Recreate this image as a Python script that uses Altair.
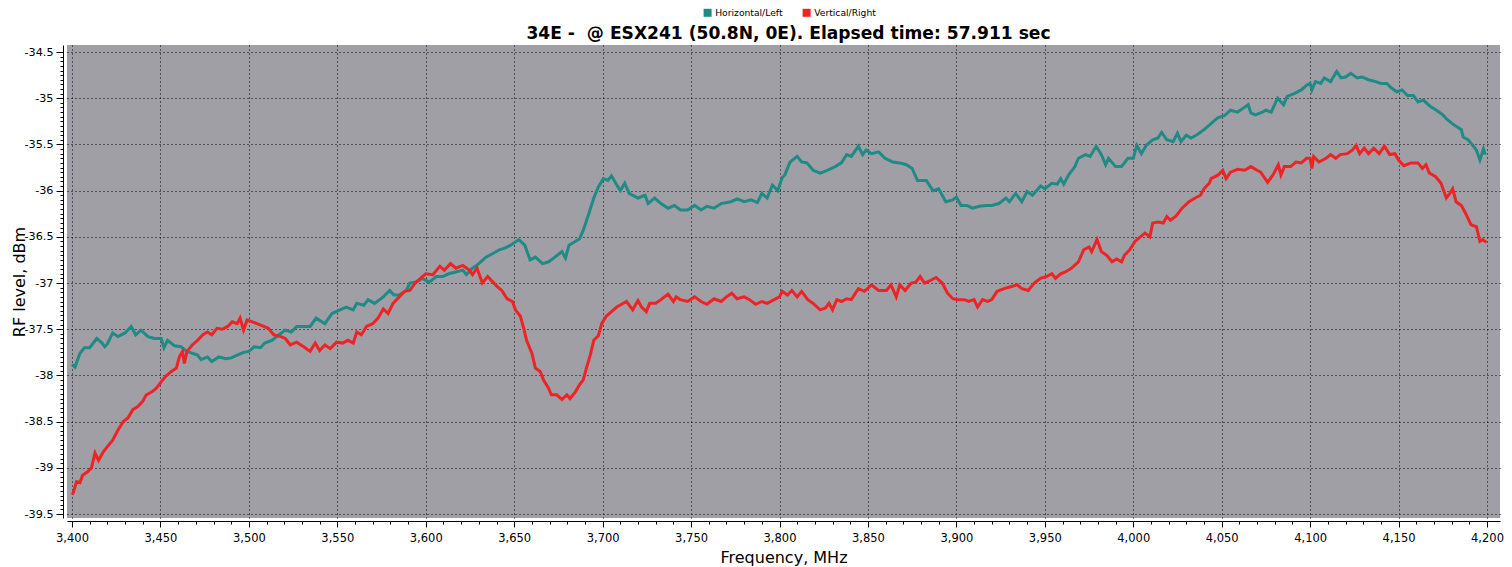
import altair as alt
import pandas as pd

TITLE = "34E - \u00a0@ ESX241 (50.8N, 0E). Elapsed time: 57.911 sec"
SERIES = ["Horizontal/Left", "Vertical/Right"]
COLORS = ["#1f8b87", "#ee2326"]

H_FREQ = [3400, 3401.7, 3404.5, 3407, 3410, 3414, 3417, 3418.5, 3420, 3423, 3426, 3430, 3433.5, 3436, 3439, 3443,
          3446.6, 3450.4, 3452, 3454, 3458, 3461.6, 3465, 3468, 3471, 3473, 3476.6, 3479, 3483, 3487, 3490, 3493.4,
          3497, 3500, 3503, 3506.6, 3509, 3513, 3517, 3520.6, 3524, 3527, 3531, 3534.6, 3538, 3543, 3547, 3551.5,
          3555, 3559, 3561, 3565, 3567.4, 3571, 3576, 3579.6, 3582, 3585, 3589, 3591, 3594.6, 3598, 3602, 3606,
          3609.6, 3613, 3617, 3621, 3623, 3626.4, 3630, 3634, 3638, 3641.6, 3645, 3648, 3652.6, 3656, 3659, 3662,
          3666, 3669.5, 3673, 3677, 3679, 3681, 3684.5, 3687, 3689, 3692, 3695, 3697.6, 3700.4, 3703, 3705, 3708,
          3710, 3712.5, 3715, 3720, 3724, 3725.7, 3729.4, 3733, 3737, 3740.6, 3744, 3748, 3752, 3755.6, 3759, 3763,
          3767, 3772.5, 3776, 3780, 3784, 3787.5, 3790, 3793, 3796, 3799, 3801.5, 3803, 3806, 3810, 3812.5, 3815.5,
          3819, 3823, 3827, 3831.5, 3835, 3838, 3840.6, 3844.6, 3847, 3849, 3852, 3856, 3859.6, 3864, 3868, 3871.7,
          3875, 3878, 3883, 3886.7, 3890, 3894, 3898, 3900, 3902.6, 3906, 3909, 3913, 3916.7, 3920, 3924, 3928,
          3930, 3933.5, 3937, 3940, 3943, 3947.6, 3950, 3954, 3957, 3959, 3960.7, 3963.5, 3967, 3969, 3973, 3975.6,
          3979, 3982, 3984.4, 3986, 3990, 3993.4, 3997, 4000, 4002, 4004.6, 4007.4, 4011, 4014, 4016, 4019, 4022.5,
          4025, 4027, 4030, 4032.7, 4036.5, 4040, 4043, 4046, 4048, 4051.5, 4055, 4059, 4062, 4065, 4066.5, 4069,
          4073, 4075, 4078, 4081.6, 4085, 4087, 4091, 4095, 4098, 4100, 4101, 4103, 4106, 4108, 4111.6, 4115,
          4117.5, 4120, 4123, 4126.6, 4129.4, 4133, 4137, 4140, 4143.4, 4146, 4149, 4152, 4155, 4158.4, 4161, 4164,
          4168, 4171.4, 4175, 4177, 4180, 4183, 4185.5, 4186.5, 4189.3, 4192, 4194, 4196, 4198, 4199]
H_LEVEL = [-37.88, -37.91, -37.76, -37.70, -37.70, -37.60, -37.65, -37.69, -37.66, -37.54, -37.58, -37.54, -37.47,
           -37.56, -37.51, -37.58, -37.60, -37.60, -37.70, -37.62, -37.68, -37.69, -37.74, -37.76, -37.78, -37.83,
           -37.80, -37.85, -37.80, -37.82, -37.81, -37.78, -37.75, -37.74, -37.69, -37.70, -37.65, -37.62, -37.56,
           -37.51, -37.53, -37.47, -37.47, -37.47, -37.38, -37.44, -37.33, -37.29, -37.26, -37.29, -37.22, -37.24,
           -37.18, -37.22, -37.15, -37.08, -37.13, -37.13, -37.08, -37.00, -36.99, -36.95, -36.99, -36.93, -36.93,
           -36.90, -36.88, -36.86, -36.91, -36.84, -36.79, -36.72, -36.68, -36.64, -36.62, -36.59, -36.53, -36.59,
           -36.75, -36.72, -36.79, -36.77, -36.72, -36.66, -36.73, -36.59, -36.55, -36.52, -36.43, -36.26, -36.08,
           -35.96, -35.87, -35.89, -35.84, -35.94, -36.00, -35.92, -36.03, -36.08, -36.05, -36.14, -36.08, -36.14,
           -36.19, -36.16, -36.21, -36.21, -36.16, -36.21, -36.17, -36.19, -36.14, -36.12, -36.09, -36.12, -36.10,
           -36.13, -36.03, -36.08, -35.94, -36.00, -35.86, -35.83, -35.69, -35.63, -35.69, -35.70, -35.78, -35.81,
           -35.78, -35.74, -35.70, -35.61, -35.63, -35.52, -35.61, -35.56, -35.60, -35.58, -35.65, -35.69, -35.70,
           -35.72, -35.76, -35.89, -35.89, -36.00, -35.98, -36.12, -36.10, -36.07, -36.16, -36.16, -36.19, -36.17,
           -36.16, -36.16, -36.14, -36.08, -36.12, -36.03, -36.12, -36.01, -36.05, -35.95, -35.98, -35.92, -35.93,
           -35.87, -35.93, -35.83, -35.74, -35.65, -35.61, -35.63, -35.52, -35.61, -35.72, -35.65, -35.74, -35.74,
           -35.65, -35.65, -35.51, -35.60, -35.51, -35.45, -35.43, -35.37, -35.45, -35.47, -35.38, -35.47, -35.40,
           -35.43, -35.39, -35.34, -35.29, -35.24, -35.21, -35.19, -35.13, -35.15, -35.11, -35.07, -35.16, -35.18,
           -35.15, -35.13, -35.15, -35.00, -35.07, -34.98, -34.95, -34.91, -34.86, -34.84, -34.91, -34.82, -34.84,
           -34.78, -34.82, -34.71, -34.78, -34.77, -34.73, -34.78, -34.77, -34.80, -34.82, -34.84, -34.84, -34.89,
           -34.93, -34.91, -34.97, -34.97, -35.04, -35.02, -35.09, -35.13, -35.18, -35.22, -35.27, -35.31, -35.34,
           -35.42, -35.45, -35.51, -35.56, -35.67, -35.55, -35.61]

V_FREQ = [3400, 3400.7, 3402.6, 3404.5, 3406, 3409, 3411, 3413, 3415, 3417.6, 3420, 3423, 3426, 3429, 3431.6,
          3434.4, 3437, 3440, 3442, 3445, 3447.6, 3450.4, 3453, 3456, 3459, 3460.7, 3462.5, 3463.5, 3465, 3468,
          3471, 3474, 3476.6, 3479, 3482, 3485, 3488, 3490.6, 3493.4, 3495, 3497, 3499, 3502, 3504.6, 3508.4, 3511,
          3514, 3518, 3520.6, 3523.4, 3527, 3531, 3534.6, 3537.5, 3540, 3543, 3546, 3549.6, 3553, 3556, 3559, 3561,
          3563.6, 3566.5, 3570, 3573, 3576, 3578.7, 3581.5, 3585, 3588, 3591, 3594, 3597, 3600, 3604, 3608, 3610.5,
          3614, 3617, 3621, 3624.6, 3626.4, 3629, 3632, 3635, 3638, 3640.4, 3643, 3646, 3649, 3650.7, 3653.5,
          3655.4, 3657, 3660, 3662, 3664.8, 3666.6, 3669.5, 3671, 3674, 3677, 3679.8, 3681.6, 3684.5, 3687, 3689,
          3691, 3693, 3695, 3697.6, 3699.5, 3702, 3705, 3708, 3710.7, 3713.5, 3717, 3720, 3722, 3724.7, 3726.6,
          3730, 3733, 3737, 3740, 3741.6, 3744, 3748, 3752, 3755.6, 3759, 3763, 3767, 3770, 3773, 3776, 3780, 3783,
          3786.5, 3790, 3793, 3797, 3800, 3801.5, 3804.5, 3807, 3810, 3812.5, 3816, 3819, 3823, 3826, 3828, 3830,
          3832.4, 3835, 3838, 3840.6, 3844.6, 3848, 3852, 3856, 3860.5, 3863, 3866, 3868, 3871, 3874.5, 3877,
          3879.5, 3882, 3885.6, 3888.5, 3892, 3895, 3898, 3900.7, 3904.5, 3907, 3910, 3912, 3914.8, 3917.6, 3920,
          3923, 3927, 3930.7, 3934.4, 3937, 3940.6, 3944, 3947.6, 3951, 3954, 3956, 3959, 3961.6, 3965, 3969, 3972,
          3975, 3976.5, 3979.5, 3982, 3985, 3988, 3990.6, 3993.4, 3995, 3998, 4001, 4004, 4006.6, 4009.4, 4011,
          4014, 4017, 4019, 4021, 4024, 4027.6, 4031.5, 4035, 4038, 4040, 4043, 4044, 4048, 4050.6, 4052.5, 4055,
          4059, 4063, 4066.5, 4070, 4072, 4076, 4079, 4082, 4083.5, 4085.4, 4089, 4092, 4095, 4098, 4100, 4101,
          4102, 4105, 4109, 4111.6, 4114.5, 4117, 4121, 4124, 4126, 4128, 4130.6, 4133, 4136, 4139, 4142, 4145,
          4148, 4150, 4153, 4157, 4161, 4163.5, 4165.5, 4167.4, 4171, 4174, 4177, 4179, 4180.6, 4182.5, 4185.5,
          4188, 4191, 4194, 4196, 4197.6, 4199.7]
V_LEVEL = [-39.29, -39.27, -39.15, -39.16, -39.08, -39.04, -39.00, -38.84, -38.92, -38.83, -38.77, -38.70, -38.59,
           -38.50, -38.46, -38.37, -38.34, -38.28, -38.21, -38.18, -38.14, -38.07, -38.01, -37.96, -37.92, -37.80,
           -37.74, -37.87, -37.74, -37.67, -37.62, -37.56, -37.53, -37.56, -37.49, -37.50, -37.47, -37.42, -37.44,
           -37.38, -37.51, -37.40, -37.42, -37.44, -37.47, -37.49, -37.56, -37.58, -37.60, -37.67, -37.64, -37.69,
           -37.74, -37.65, -37.73, -37.67, -37.71, -37.64, -37.65, -37.62, -37.65, -37.53, -37.56, -37.47, -37.44,
           -37.38, -37.28, -37.33, -37.22, -37.15, -37.09, -37.08, -37.00, -36.95, -36.90, -36.91, -36.82, -36.86,
           -36.79, -36.84, -36.81, -36.86, -36.91, -36.84, -37.00, -36.93, -36.99, -37.04, -37.08, -37.17, -37.20,
           -37.29, -37.36, -37.49, -37.62, -37.76, -37.92, -37.96, -38.05, -38.14, -38.21, -38.21, -38.26, -38.21,
           -38.25, -38.18, -38.10, -38.05, -37.91, -37.78, -37.62, -37.57, -37.44, -37.36, -37.31, -37.26, -37.23,
           -37.20, -37.29, -37.19, -37.26, -37.31, -37.22, -37.22, -37.18, -37.12, -37.20, -37.15, -37.18, -37.20,
           -37.15, -37.20, -37.23, -37.17, -37.20, -37.15, -37.11, -37.17, -37.15, -37.18, -37.23, -37.20, -37.22,
           -37.18, -37.15, -37.09, -37.13, -37.08, -37.15, -37.09, -37.18, -37.22, -37.29, -37.27, -37.22, -37.29,
           -37.18, -37.20, -37.17, -37.18, -37.06, -37.09, -37.02, -37.08, -37.08, -37.02, -37.15, -37.02, -37.08,
           -37.00, -36.99, -36.93, -37.00, -36.97, -36.94, -37.00, -37.11, -37.17, -37.18, -37.18, -37.20, -37.18,
           -37.26, -37.18, -37.20, -37.18, -37.09, -37.06, -37.04, -37.02, -37.06, -37.08, -37.00, -36.95, -36.93,
           -36.90, -36.95, -36.90, -36.88, -36.84, -36.77, -36.64, -36.61, -36.66, -36.53, -36.66, -36.70, -36.77,
           -36.74, -36.77, -36.70, -36.64, -36.55, -36.50, -36.46, -36.50, -36.35, -36.34, -36.35, -36.28, -36.32,
           -36.28, -36.19, -36.12, -36.08, -36.05, -35.98, -35.92, -35.87, -35.83, -35.78, -35.87, -35.80, -35.77,
           -35.78, -35.74, -35.78, -35.80, -35.91, -35.83, -35.72, -35.83, -35.74, -35.74, -35.69, -35.70, -35.65,
           -35.65, -35.76, -35.63, -35.69, -35.65, -35.61, -35.65, -35.61, -35.60, -35.56, -35.51, -35.60, -35.54,
           -35.60, -35.54, -35.60, -35.52, -35.61, -35.60, -35.67, -35.73, -35.70, -35.70, -35.76, -35.72, -35.81,
           -35.85, -35.92, -36.08, -36.03, -35.98, -36.12, -36.16, -36.25, -36.37, -36.39, -36.55, -36.53, -36.56]

X_TICKS = list(range(3400, 4201, 50))
X_MINOR = list(range(3400, 4201, 10))
Y_TICKS = [-39.5, -39.0, -38.5, -38.0, -37.5, -37.0, -36.5, -36.0, -35.5, -35.0, -34.5]
Y_MINOR = [round(-39.5 + 0.05 * i, 2) for i in range(101)]

df = pd.concat([
    pd.DataFrame({"freq": H_FREQ, "level": H_LEVEL, "series": SERIES[0]}),
    pd.DataFrame({"freq": V_FREQ, "level": V_LEVEL, "series": SERIES[1]}),
], ignore_index=True)

FONT = "DejaVu Sans"
x_scale = alt.Scale(domain=[3397.17, 4207.35], nice=False, zero=False)
y_scale = alt.Scale(domain=[-39.543, -34.424], nice=False, zero=False)

lines = alt.Chart(df).mark_line(strokeWidth=3, clip=True).encode(
    x=alt.X("freq:Q", scale=x_scale,
            axis=alt.Axis(values=X_TICKS, format=",d", title="Frequency, MHz", orient="bottom",
                          grid=True, offset=3, tickSize=6, labelPadding=5, titlePadding=6)),
    y=alt.Y("level:Q", scale=y_scale,
            axis=alt.Axis(values=Y_TICKS, labelExpr="toString(datum.value)", title="RF level, dBm",
                          orient="left", grid=True, offset=4, tickSize=7, labelPadding=3, titlePadding=0,
                          labelFontSize=11.2, titleBaseline="alphabetic")),
    color=alt.Color("series:N", scale=alt.Scale(domain=SERIES, range=COLORS),
                    legend=alt.Legend(title=None, orient="none", legendX=636, legendY=-37,
                                      direction="horizontal", symbolType="square", symbolSize=16,
                                      symbolStrokeWidth=4, labelFont=FONT, labelFontSize=9.2,
                                      labelColor="black", labelOffset=3, columnPadding=13)),
)

minor = alt.Chart(df).mark_point(opacity=0).encode(
    x=alt.X("freq:Q", scale=x_scale,
            axis=alt.Axis(values=X_MINOR, labels=False, grid=False, domain=False, title=None,
                          orient="bottom", offset=3, tickSize=3)),
    y=alt.Y("level:Q", scale=y_scale,
            axis=alt.Axis(values=Y_MINOR, labels=False, grid=False, domain=False, title=None,
                          orient="left", offset=4, tickSize=3)),
)

chart = alt.layer(lines, minor).resolve_axis(x="independent", y="independent").properties(
    width=1433, height=473,
    autosize=alt.AutoSizeParams(type="none"),
    padding={"left": 59, "top": 37, "right": 4, "bottom": 49},
    title=alt.TitleParams(TITLE, font=FONT, fontSize=17.1, fontWeight="bold", color="black",
                          anchor="middle", frame="group", offset=4, baseline="alphabetic", dy=52, dx=5),
).configure_view(fill="#a09fa5", strokeWidth=0).configure_axis(
    domainColor="black", tickColor="black", labelColor="black", titleColor="black",
    gridColor="black", gridDash=[1, 3], gridOpacity=1, gridWidth=1,
    labelFont=FONT, titleFont=FONT, labelFontSize=11.5, titleFontSize=16, titleFontWeight="normal",
)

chart.save("out.html", embed_options={"renderer": "svg", "actions": False})
